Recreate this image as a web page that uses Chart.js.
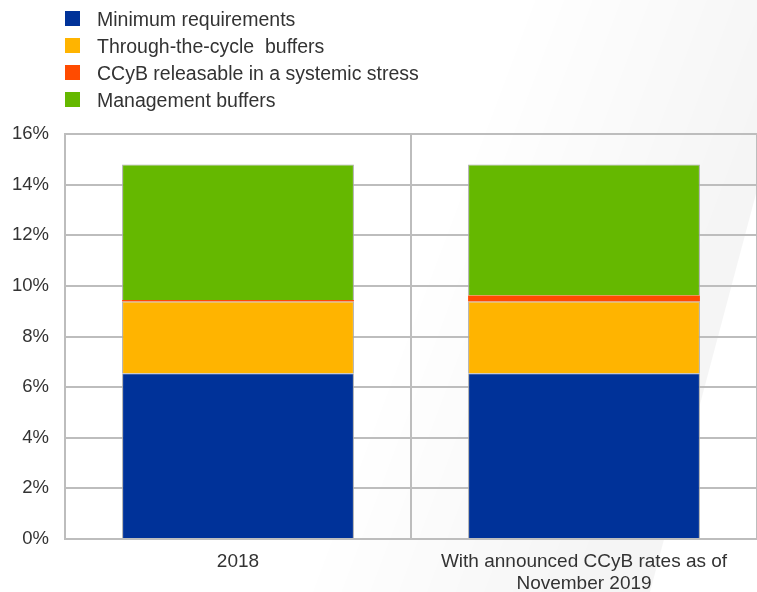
<!DOCTYPE html>
<html>
<head>
<meta charset="utf-8">
<script src="https://cdn.jsdelivr.net/npm/chart.js@4.4.1/dist/chart.umd.min.js"></script>
<style>
  html, body { margin: 0; padding: 0; background: #fff; }
  #wrap { position: relative; width: 757px; height: 592px; }
  #legend { position: absolute; left: 65px; top: 5px; font-family: "Liberation Sans", Arial, sans-serif; font-size: 19.5px; color: #333; }
  #legend div { height: 27px; line-height: 22px; display: flex; align-items: center; white-space: pre; }
  #legend span.box { display: inline-block; width: 15px; height: 15px; margin-right: 17px; }
</style>
</head>
<body>
<div id="wrap">
  <canvas id="chart" width="757" height="592"></canvas>
  <div id="legend"></div>
</div>
<script>
// categories and stacked components (% of RWA)
const categories = ['2018', ['With announced CCyB rates as of', 'November 2019']];
const minRequirements = [6.55, 6.55];
const ttcBuffers = [2.83, 2.83];
const ccybReleasable = [0.06, 0.24];
const mgmtBuffers = [5.36, 5.18];
const yTicks = [0, 2, 4, 6, 8, 10, 12, 14, 16];

const seriesNames = ['Minimum requirements', 'Through-the-cycle  buffers', 'CCyB releasable in a systemic stress', 'Management buffers'];
const seriesColors = ['#003299', '#ffb400', '#ff4b00', '#65b800'];
const seriesBorders = [1, 1, 0, 1];
const seriesData = [minRequirements, ttcBuffers, ccybReleasable, mgmtBuffers];

const font = "'Liberation Sans', Arial, sans-serif";

// faint grey band behind the plot on the right, fading out to the left
const bgShape = {
  id: 'bgShape',
  beforeDraw(chart) {
    const ctx = chart.ctx;
    ctx.save();
    const g = ctx.createLinearGradient(410, 296, 660, 390);
    g.addColorStop(0, 'rgba(0,0,0,0)');
    g.addColorStop(1, 'rgba(0,0,0,0.04)');
    ctx.fillStyle = g;
    ctx.beginPath();
    ctx.moveTo(520, 0);
    ctx.lineTo(757, 0);
    ctx.lineTo(757, 190);
    ctx.lineTo(650, 592);
    ctx.lineTo(300, 592);
    ctx.closePath();
    ctx.fill();
    ctx.restore();
  }
};

// legend as a vertical list
const htmlLegend = {
  id: 'htmlLegend',
  afterUpdate(chart) {
    const el = document.getElementById('legend');
    el.innerHTML = '';
    chart.data.datasets.forEach(ds => {
      const row = document.createElement('div');
      const box = document.createElement('span');
      box.className = 'box';
      box.style.background = ds.backgroundColor;
      row.appendChild(box);
      row.appendChild(document.createTextNode(ds.label));
      el.appendChild(row);
    });
  }
};

const ctx = document.getElementById('chart').getContext('2d');
window.bufferChart = new Chart(ctx, {
  type: 'bar',
  data: {
    labels: categories,
    datasets: seriesData.map((d, i) => ({
      label: seriesNames[i],
      data: d,
      backgroundColor: seriesColors[i],
      borderColor: '#a8a8a8',
      borderWidth: seriesBorders[i],
      barPercentage: 0.67,
      categoryPercentage: 1
    }))
  },
  options: {
    responsive: false,
    animation: false,
    layout: { padding: { top: 134, right: 0, left: 0, bottom: 0 } },
    plugins: {
      legend: { display: false },
      tooltip: { enabled: false }
    },
    scales: {
      x: {
        stacked: true,
        offset: true,
        grid: { color: '#bdbdbd', lineWidth: 2, offset: true, drawTicks: false },
        border: { color: '#bdbdbd', width: 2 },
        ticks: { color: '#333', font: { family: font, size: 19, lineHeight: 1.15 }, padding: 12, maxRotation: 0 },
        afterFit(scale) { scale.height = 53; }
      },
      y: {
        stacked: true,
        min: 0,
        max: 16,
        afterBuildTicks(scale) { scale.ticks = yTicks.map(v => ({ value: v })); },
        grid: { color: '#bdbdbd', lineWidth: 2, drawTicks: false },
        border: { color: '#bdbdbd', width: 2 },
        ticks: { color: '#333', font: { family: font, size: 18.5 }, padding: 16, callback: v => v + '%' },
        afterFit(scale) { scale.width = 65; }
      }
    }
  },
  plugins: [bgShape, htmlLegend]
});
</script>
</body>
</html>
